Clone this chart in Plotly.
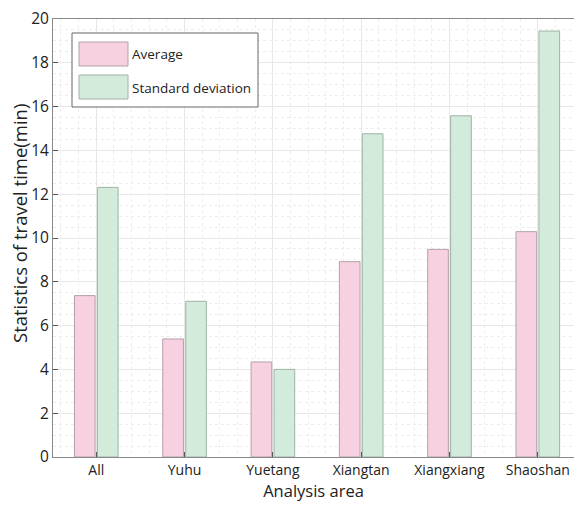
import plotly.graph_objects as go

categories = ["All", "Yuhu", "Yuetang", "Xiangtan", "Xiangxiang", "Shaoshan"]
average = [7.37, 5.39, 4.34, 8.92, 9.48, 10.29]
std_dev = [12.31, 7.11, 4.00, 14.76, 15.58, 19.45]
y_ticks = [0, 2, 4, 6, 8, 10, 12, 14, 16, 18, 20]

pink = "#F7D0E2"
pink_line = "#B3A1A9"
green = "#D3EBDB"
green_line = "#9FB3A5"
font_family = "Open Sans, Noto Sans, sans-serif"

xpos = list(range(len(categories)))

W, H = 574, 506
ML, MT, MB, MR = 53, 19, 49, 0
plot_w = W - ML - MR
plot_h = H - MT - MB

fig = go.Figure()
fig.add_trace(go.Bar(x=xpos, y=average, name="Average", marker=dict(color=pink, line=dict(color=pink_line, width=1)), showlegend=False))
fig.add_trace(go.Bar(x=xpos, y=std_dev, name="Standard deviation", marker=dict(color=green, line=dict(color=green_line, width=1)), showlegend=False))

fig.update_layout(
    width=W, height=H,
    margin=dict(l=ML, r=MR, t=MT, b=MB, autoexpand=False),
    paper_bgcolor="white", plot_bgcolor="white",
    barmode="group", bargap=0.48, bargroupgap=0.1,
    font=dict(family=font_family, size=14, color="#222"),
)
fig.update_xaxes(
    range=[-0.49, 5.41], tickvals=xpos, ticktext=categories,
    showline=True, linecolor="#888", linewidth=1, mirror=True,
    ticks="inside", ticklen=5, tickcolor="#555",
    tickfont=dict(size=14), ticklabeloverflow="allow",
    showgrid=True, gridcolor="#E8E8E8", gridwidth=1,
    minor=dict(dtick=0.2, tick0=0, showgrid=True, gridcolor="#EDEDED", griddash="dot"),
    title=dict(text="Analysis area", font=dict(size=16.5), standoff=4),
    zeroline=False, automargin=False,
)
fig.update_yaxes(
    range=[0, 20], tickvals=y_ticks,
    showline=True, linecolor="#888", linewidth=1, mirror=True,
    ticks="inside", ticklen=5, tickcolor="#555",
    tickfont=dict(size=15.5), ticklabeloverflow="allow",
    showgrid=True, gridcolor="#E8E8E8", gridwidth=1,
    minor=dict(dtick=0.5, showgrid=True, gridcolor="#EDEDED", griddash="dot"),
    zeroline=False, automargin=False,
)

# positions given in window pixels
def px_x(p):
    return (p - ML) / plot_w
def px_y(p):
    return (H - MB - p) / plot_h

# y-axis title
fig.add_annotation(xref="paper", yref="paper", x=px_x(20), y=px_y(224), text="Statistics of travel time(min)",
                   textangle=-90, showarrow=False, xanchor="center", yanchor="middle",
                   font=dict(size=18.5, color="#222"))

# legend drawn as shapes + text
fig.add_shape(type="rect", xref="paper", yref="paper", x0=px_x(72), x1=px_x(258), y0=px_y(107), y1=px_y(33),
              line=dict(color="#666", width=1), fillcolor="white", layer="above")
fig.add_shape(type="rect", xref="paper", yref="paper", x0=px_x(79), x1=px_x(128), y0=px_y(66), y1=px_y(42),
              line=dict(color=pink_line, width=1), fillcolor=pink, layer="above")
fig.add_shape(type="rect", xref="paper", yref="paper", x0=px_x(79), x1=px_x(128), y0=px_y(99), y1=px_y(75),
              line=dict(color=green_line, width=1), fillcolor=green, layer="above")
fig.add_annotation(xref="paper", yref="paper", x=px_x(130), y=px_y(54), text="Average", showarrow=False,
                   xanchor="left", yanchor="middle", font=dict(size=13.5, color="#222"))
fig.add_annotation(xref="paper", yref="paper", x=px_x(130), y=px_y(88), text="Standard deviation", showarrow=False,
                   xanchor="left", yanchor="middle", font=dict(size=13.5, color="#222"))

fig.write_html("out.html", config={"displayModeBar": False},
               post_script="document.body.style.margin='0';document.body.style.overflow='hidden';")
